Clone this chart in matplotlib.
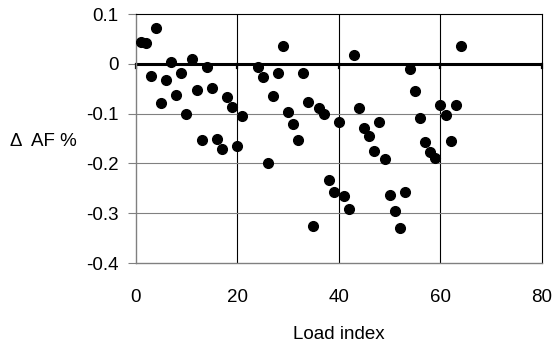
import matplotlib
matplotlib.use("Agg")
import matplotlib.pyplot as plt

plt.rcParams["font.family"] = ["Liberation Sans", "DejaVu Sans"]

# Load index vs change in AF (%)
load_index = [1, 2, 3, 4, 5, 6, 7, 8, 9, 10, 11, 12, 13, 14, 15, 16, 17, 18, 19, 20,
              21, 24, 25, 26, 27, 28, 29, 30, 31, 32, 33, 34, 35, 36, 37, 38, 39, 40,
              41, 42, 43, 44, 45, 46, 47, 48, 49, 50, 51, 52, 53, 54, 55, 56, 57, 58,
              59, 60, 61, 62, 63, 64]
delta_af = [0.043, 0.041, -0.025, 0.072, -0.079, -0.033, 0.003, -0.063, -0.018, -0.100,
            0.009, -0.052, -0.152, -0.006, -0.049, -0.150, -0.172, -0.066, -0.087, -0.165,
            -0.105, -0.007, -0.026, -0.200, -0.064, -0.018, 0.035, -0.096, -0.120, -0.153,
            -0.018, -0.077, -0.325, -0.088, -0.101, -0.233, -0.257, -0.117, -0.266, -0.292,
            0.017, -0.089, -0.129, -0.144, -0.175, -0.116, -0.192, -0.263, -0.296, -0.329,
            -0.257, -0.011, -0.054, -0.109, -0.156, -0.177, -0.190, -0.083, -0.103, -0.154,
            -0.083, 0.035]

x_ticks = [0, 20, 40, 60, 80]
y_ticks = [0.1, 0, -0.1, -0.2, -0.3, -0.4]
y_labels = ["0.1", "0", "-0.1", "-0.2", "-0.3", "-0.4"]

FS = 13.5

fig = plt.figure(figsize=(5.55, 3.51), dpi=100)
ax = fig.add_axes([0.2445, 0.2507, 0.7321, 0.7093])

ax.set_xlim(0, 80)
ax.set_ylim(-0.4, 0.1)

# grid: black verticals, grey horizontals
for xv in x_ticks[1:-1]:
    ax.axvline(xv, color="black", lw=0.8, zorder=1)
for yv in [-0.1, -0.2, -0.3]:
    ax.axhline(yv, color="#808080", lw=0.8, zorder=1)

# zero axis with its own small tick marks
ax.axhline(0, color="black", lw=2.2, zorder=2)
for xv in x_ticks:
    ax.plot([xv, xv], [0, -0.008], color="black", lw=1.6, zorder=2, clip_on=False)

ax.plot(load_index, delta_af, "o", color="black", markersize=7, zorder=3)

ax.set_xticks(x_ticks)
ax.set_xticklabels([str(v) for v in x_ticks], fontsize=FS)
ax.set_yticks(y_ticks)
ax.set_yticklabels(y_labels, fontsize=FS)
ax.tick_params(axis="x", length=0, pad=19)
ax.tick_params(axis="y", length=5.5, color="#808080", pad=7)

for side in ["top", "right"]:
    ax.spines[side].set_color("black")
    ax.spines[side].set_linewidth(0.8)
for side in ["left", "bottom"]:
    ax.spines[side].set_color("#808080")
    ax.spines[side].set_linewidth(1.0)

ax.set_xlabel("Load index", fontsize=FS, labelpad=14)
fig.text(0.018, 0.596, "\u0394  AF %", fontsize=FS, ha="left", va="center")

fig.savefig("out.png", dpi=100)
